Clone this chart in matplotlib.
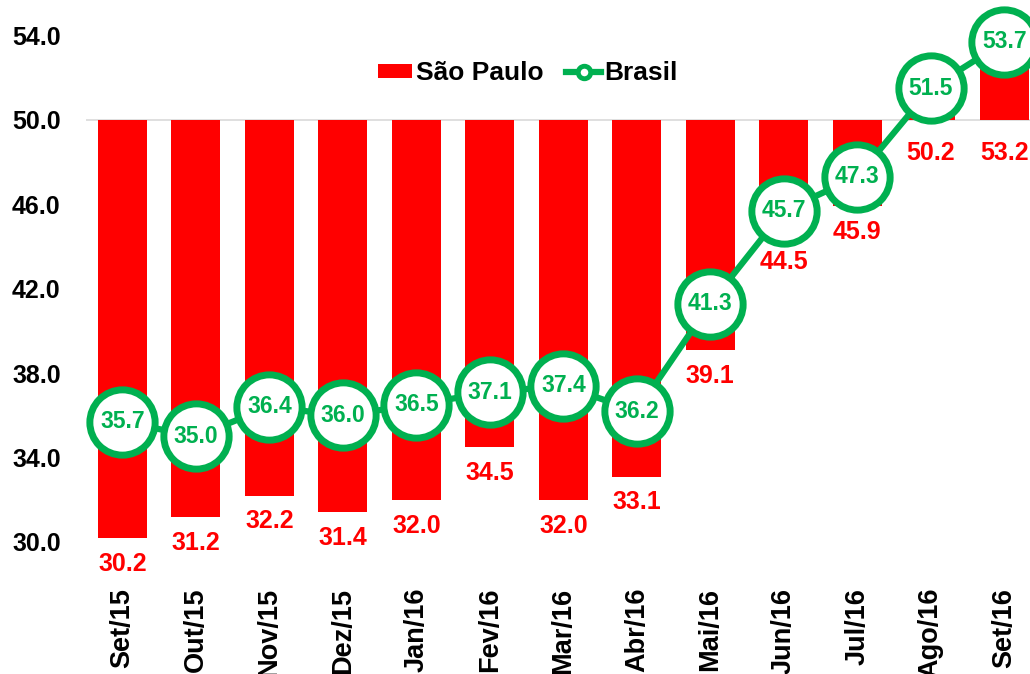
import matplotlib
matplotlib.use("Agg")
import matplotlib.pyplot as plt
from matplotlib.lines import Line2D
from matplotlib.patches import Patch
import numpy as np

plt.rcParams['font.family'] = ['Liberation Sans', 'DejaVu Sans']
plt.rcParams['font.weight'] = 'bold'

months = ['Set/15', 'Out/15', 'Nov/15', 'Dez/15', 'Jan/16', 'Fev/16', 'Mar/16',
          'Abr/16', 'Mai/16', 'Jun/16', 'Jul/16', 'Ago/16', 'Set/16']
sao_paulo = [30.2, 31.2, 32.2, 31.4, 32.0, 34.5, 32.0, 33.1, 39.1, 44.5, 45.9, 50.2, 53.2]
brasil = [35.7, 35.0, 36.4, 36.0, 36.5, 37.1, 37.4, 36.2, 41.3, 45.7, 47.3, 51.5, 53.7]
y_ticks = [30, 34, 38, 42, 46, 50, 54]

RED = '#FF0000'
GREEN = '#00B050'
BASE = 50.0  # category axis crosses here

fig = plt.figure(figsize=(10.3, 6.74), dpi=100)
ax = fig.add_axes([0.08325, 0.19585, 0.9274, 0.7514])

x = np.arange(len(months))
sp = np.array(sao_paulo)
ax.bar(x, sp - BASE, bottom=BASE, width=0.667, color=RED, zorder=2)
ax.axhline(BASE, color='#D9D9D9', lw=1.2, zorder=1)

ax.plot(x, brasil, color=GREEN, lw=4.5, marker='o', markersize=47,
        markerfacecolor='white', markeredgecolor=GREEN, markeredgewidth=5,
        zorder=4, clip_on=False)

# labels
for xi, v in zip(x, sao_paulo):
    ypos = min(v, BASE)
    off = -10 if v < BASE else -15
    ax.annotate(f"{v:.1f}", (xi, ypos), xytext=(0, off), textcoords='offset points',
                ha='center', va='top', color=RED, fontsize=18, fontweight='bold',
                zorder=5, annotation_clip=False)
for xi, v in zip(x, brasil):
    ax.text(xi, v, f"{v:.1f}", ha='center', va='center', color=GREEN,
            fontsize=16.5, fontweight='bold', zorder=6, clip_on=False)

ax.set_xlim(-0.5, len(months) - 0.5)
ax.set_ylim(30, 54)
ax.set_yticks(y_ticks)
ax.set_yticklabels([f"{t:.1f}" for t in y_ticks], fontsize=18, fontweight='bold')
ax.set_xticks(x)
ax.set_xticklabels(months, rotation=90, fontsize=19.5, fontweight='bold')
ax.tick_params(axis='y', length=0, pad=18)
ax.tick_params(axis='x', length=0, pad=33)
for s in ax.spines.values():
    s.set_visible(False)

handles = [Patch(facecolor=RED, label='São Paulo'),
           Line2D([0], [0], color=GREEN, lw=4.5, marker='o', markersize=9,
                  markerfacecolor='white', markeredgecolor=GREEN, markeredgewidth=3.5,
                  label='Brasil')]
ax.legend(handles=handles, loc='center', bbox_to_anchor=(0.463, 0.926), ncol=2,
          frameon=False, prop={'size': 19, 'weight': 'bold'}, handlelength=1.3,
          handleheight=0.45, handletextpad=0.15, columnspacing=0.85)

fig.savefig('out.png', dpi=100)
